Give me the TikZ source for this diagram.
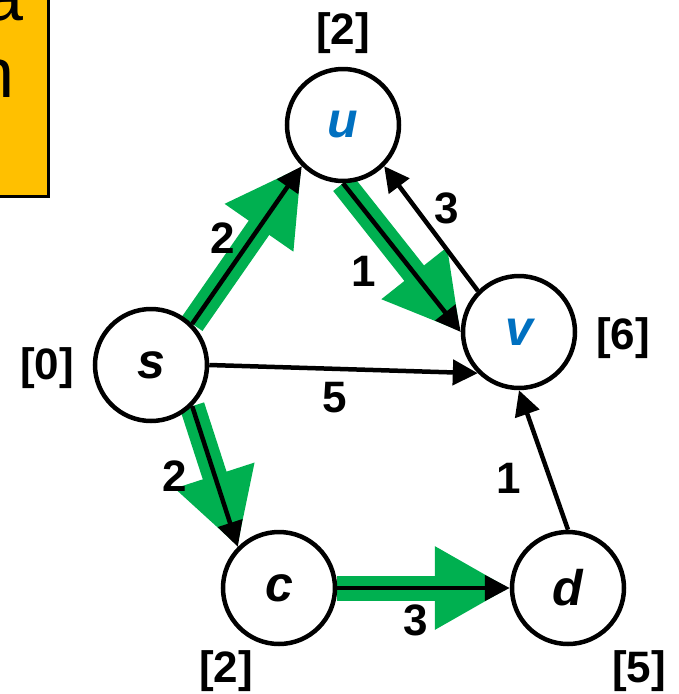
\documentclass[tikz,border=0pt]{standalone}
\usepackage{fontspec}
\setmainfont{Liberation Sans}
\usetikzlibrary{arrows.meta,backgrounds}
\definecolor{pgreen}{HTML}{00B050}
\definecolor{pblue}{HTML}{0070C0}
\definecolor{porange}{HTML}{FFC000}
\begin{document}
\begin{tikzpicture}[x=1pt,y=-1pt,
  vertex/.style={circle,draw,line width=4.5pt,minimum size=112pt,inner sep=0pt,fill=white,
    font=\fontsize{50}{50}\selectfont\bfseries\itshape},
  lbl/.style={font=\fontsize{44}{44}\selectfont\bfseries,inner sep=0pt},
  blackarrow/.style={line width=4.5pt,-{Triangle[length=25pt,width=25pt]}},
  greenarrow/.style={draw=pgreen,fill=pgreen,line width=25pt,-{Triangle[length=75pt,width=78pt]}},
  notebox/.style={draw,line width=3.5pt,fill=porange},
  notetext/.style={font=\fontsize{70}{70}\selectfont,inner sep=0pt,anchor=base east}]
\useasboundingbox (0,0) rectangle (679,694);
% note box (cut off)
\path[notebox] (-20,-20) rectangle (48.5,196.5);
\node[notetext] (na) at (24,20) {a};
\node[notetext] (nn) at (15,97) {n};
% vertices
\node[vertex] (u) at (343,125) {\textcolor{pblue}{u}};
\node[vertex] (s) at (151,365) {s};
\node[vertex] (v) at (519,332) {\textcolor{pblue}{v}};
\node[vertex] (c) at (279,588) {c};
\node[vertex] (d) at (568,588) {d};
% green shortest path tree
\begin{scope}[on background layer]
  \draw[greenarrow] (s.45) -- (u.225);
  \draw[greenarrow] (u.south) -- (v.west);
  \draw[greenarrow] (s.-45) -- (c.135);
  \draw[greenarrow] (c.east) -- (d.west);
\end{scope}
% edges
\draw[blackarrow] (s.45) -- (u.225);
\draw[blackarrow] (u.south) -- (v.west);
\draw[blackarrow] (v.135) -- (u.-45);
\draw[blackarrow] (s.east) -- (v.225);
\draw[blackarrow] (s.-45) -- (c.135);
\draw[blackarrow] (c.east) -- (d.west);
\draw[blackarrow] (d.north) -- (v.south);
% edge weights
\node[lbl] (wsu) at (223,238) {2};
\node[lbl] (wuv) at (364,271) {1};
\node[lbl] (wvu) at (447,208) {3};
\node[lbl] (wsv) at (335,398) {5};
\node[lbl] (wsc) at (175,476) {2};
\node[lbl] (wdv) at (509,478) {1};
\node[lbl] (wcd) at (416,620) {3};
% distances
\node[lbl] (du) at (343,33) {[2]};
\node[lbl] (ds) at (47,368) {[0]};
\node[lbl] (dv) at (623,338) {[6]};
\node[lbl] (dc) at (226,671) {[2]};
\node[lbl] (dd) at (639,671) {[5]};
\end{tikzpicture}
\end{document}
